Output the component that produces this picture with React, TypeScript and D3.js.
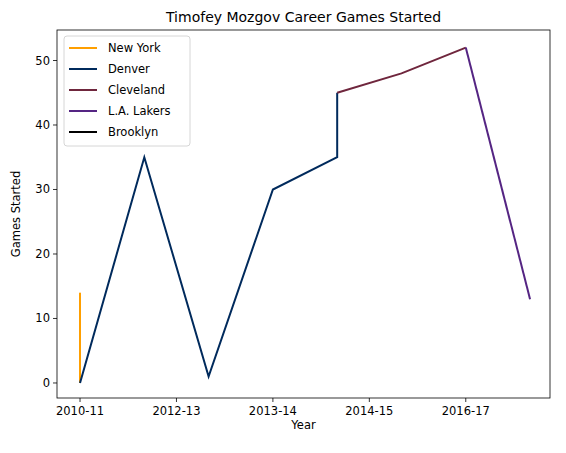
import React from "react";
import * as d3 from "d3";

const teams = ["New York", "Denver", "Cleveland", "L.A. Lakers", "Brooklyn"];
const colors = ["#ff9f00", "#002a5c", "#6f263d", "#552583", "#000000"];
const seriesX = [[0, 0], [0, 1, 2, 3, 4, 4], [4, 5, 6], [6, 7], []];
const seriesY = [[14, 0], [0, 35, 1, 30, 35, 45], [45, 48, 52], [52, 13], []];
const tickPos = [0, 1.5, 3, 4.5, 6];
const tickLabels = ["2010-11", "2012-13", "2013-14", "2014-15", "2016-17"];
const yTicks = [0, 10, 20, 30, 40, 50];

export default function App() {
  const W = 566, H = 453;
  const L = 57, R = 550, T = 30, B = 398;
  const x = d3.scaleLinear().domain([-0.358, 7.31]).range([L, R]);
  const y = d3.scaleLinear().domain([-2.33, 54.73]).range([B, T]);
  const line = d3.line<[number, number]>().x(d => x(d[0])).y(d => y(d[1]));
  const font = "DejaVu Sans, sans-serif";
  return (
    <svg width={W} height={H} style={{ position: "absolute", left: 0, top: 0, background: "#fff" }} fontFamily={font}>
      <text x={(L + R) / 2} y={22} textAnchor="middle" fontSize={14}>Timofey Mozgov Career Games Started</text>
      {teams.map((t, i) => {
        const pts = seriesX[i].map((v, j) => [v, seriesY[i][j]] as [number, number]);
        return pts.length ? <path key={t} d={line(pts)!} fill="none" stroke={colors[i]} strokeWidth={2} /> : null;
      })}
      <rect x={L} y={T} width={R - L} height={B - T} fill="none" stroke="#000" strokeWidth={0.8} />
      {tickPos.map((p, i) => (
        <g key={i}>
          <line x1={x(p)} x2={x(p)} y1={B} y2={B + 4} stroke="#000" strokeWidth={0.8} />
          <text x={x(p)} y={B + 17} textAnchor="middle" fontSize={11.5}>{tickLabels[i]}</text>
        </g>
      ))}
      {yTicks.map(v => (
        <g key={v}>
          <line x1={L - 4} x2={L} y1={y(v)} y2={y(v)} stroke="#000" strokeWidth={0.8} />
          <text x={L - 7} y={y(v) + 4} textAnchor="end" fontSize={11.5}>{v}</text>
        </g>
      ))}
      <text x={(L + R) / 2} y={B + 31} textAnchor="middle" fontSize={11.5}>Year</text>
      <text transform={`translate(20,${(T + B) / 2}) rotate(-90)`} textAnchor="middle" fontSize={11.5}>Games Started</text>
      <rect x={64} y={36} width={126} height={110} rx={3} fill="#fff" stroke="#ccc" strokeWidth={0.8} />
      {teams.map((t, i) => (
        <g key={t}>
          <line x1={69} x2={97} y1={48 + i * 21} y2={48 + i * 21} stroke={colors[i]} strokeWidth={2} />
          <text x={108} y={52 + i * 21} fontSize={11.5}>{t}</text>
        </g>
      ))}
    </svg>
  );
}
